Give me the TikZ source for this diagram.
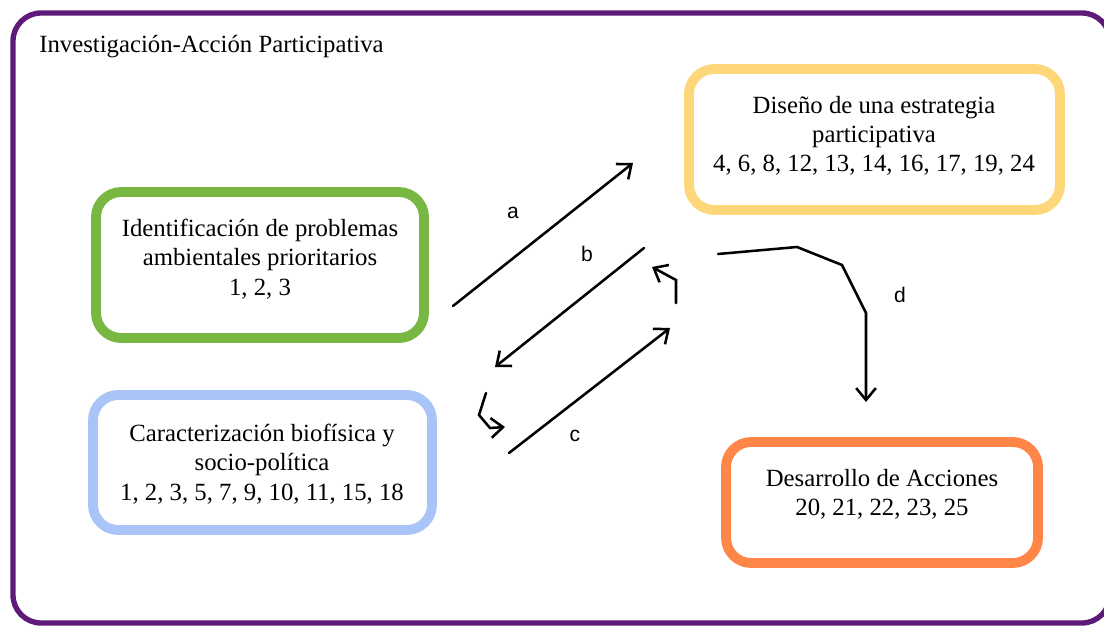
\documentclass[tikz,border=0pt]{standalone}
\usepackage{fontspec}
\setmainfont{Liberation Serif}
\setsansfont{Liberation Sans}
\usetikzlibrary{arrows.meta,positioning}

\begin{document}
\begin{tikzpicture}
[x=0.025cm,y=-0.025cm,line cap=round,
% Styles
caja/.style={draw=#1,line width=7pt,rounded corners=18pt,fill=white,inner sep=0pt},
texto caja/.style={align=center,inner sep=0pt,font=\fontsize{17.6}{20.8}\selectfont},
flecha/.style={line width=1.8pt,-{Straight Barb[length=8.5pt,width=14pt]}},
letra/.style={inner sep=0pt,font=\sffamily\fontsize{15}{18}\selectfont}]
% Colors
\definecolor{morado}{HTML}{5E1A78}
\definecolor{verde}{HTML}{78B842}
\definecolor{azul}{HTML}{A9C5F7}
\definecolor{amarillo}{HTML}{FDD77A}
\definecolor{naranja}{HTML}{FF8647}
\useasboundingbox (0,0) rectangle (1104,625);
% Frame
\draw[morado,line width=3.8pt,rounded corners=20pt] (13,13) rectangle (1110,623);
\node[texto caja,anchor=west] (titulo) at (39,47) {Investigación-Acción Participativa};
% Boxes
\node[caja=verde,minimum width=8.2cm,minimum height=3.65cm] (identif) at (260,265) {};
\node[caja=azul,minimum width=8.475cm,minimum height=3.375cm] (caract) at (262.5,462.5) {};
\node[caja=amarillo,minimum width=9.275cm,minimum height=3.525cm] (diseno) at (874.5,139.5) {};
\node[caja=naranja,minimum width=7.8cm,minimum height=3.025cm] (desarr) at (882,502.5) {};
\node[texto caja] (identif texto) at (260,259)
{Identificación de problemas\\ambientales prioritarios\\1, 2, 3};
\node[texto caja] (caract texto) at (262,464)
{Caracterización biofísica y\\socio-política\\1, 2, 3, 5, 7, 9, 10, 11, 15, 18};
\node[texto caja] (diseno texto) at (874,136)
{Diseño de una estrategia\\participativa\\4, 6, 8, 12, 13, 14, 16, 17, 19, 24};
\node[texto caja] (desarr texto) at (882,494)
{Desarrollo de Acciones\\20, 21, 22, 23, 25};
% Arrows
\coordinate (a ini) at (453,306);
\coordinate (a fin) at (633,163);
\coordinate (b ini) at (644,248);
\coordinate (b fin) at (495,367);
\coordinate (c ini) at (509,453);
\coordinate (c fin) at (670,328);
\coordinate (vuelta izq ini) at (486,393);
\coordinate (vuelta izq fin) at (505,427);
\coordinate (vuelta der ini) at (676,303);
\coordinate (vuelta der fin) at (652,267);
\coordinate (d ini) at (718,254);
\coordinate (d fin) at (866,402);
\draw[flecha] (a ini) -- (a fin);
\draw[flecha] (b ini) -- (b fin);
\draw[flecha] (c ini) -- (c fin);
\draw[flecha] (vuelta izq ini) -- (479,415) -- (490,428) -- (vuelta izq fin);
\draw[flecha] (vuelta der ini) -- (676,280) -- (vuelta der fin);
\draw[flecha] (d ini) -- (797,247) -- (842,265) -- (866,313) -- (d fin);
% Labels
\node[letra] (etiq a) at (513,213) {a};
\node[letra] (etiq b) at (587,254) {b};
\node[letra] (etiq c) at (575,436) {c};
\node[letra] (etiq d) at (900,295) {d};
\end{tikzpicture}
\end{document}
